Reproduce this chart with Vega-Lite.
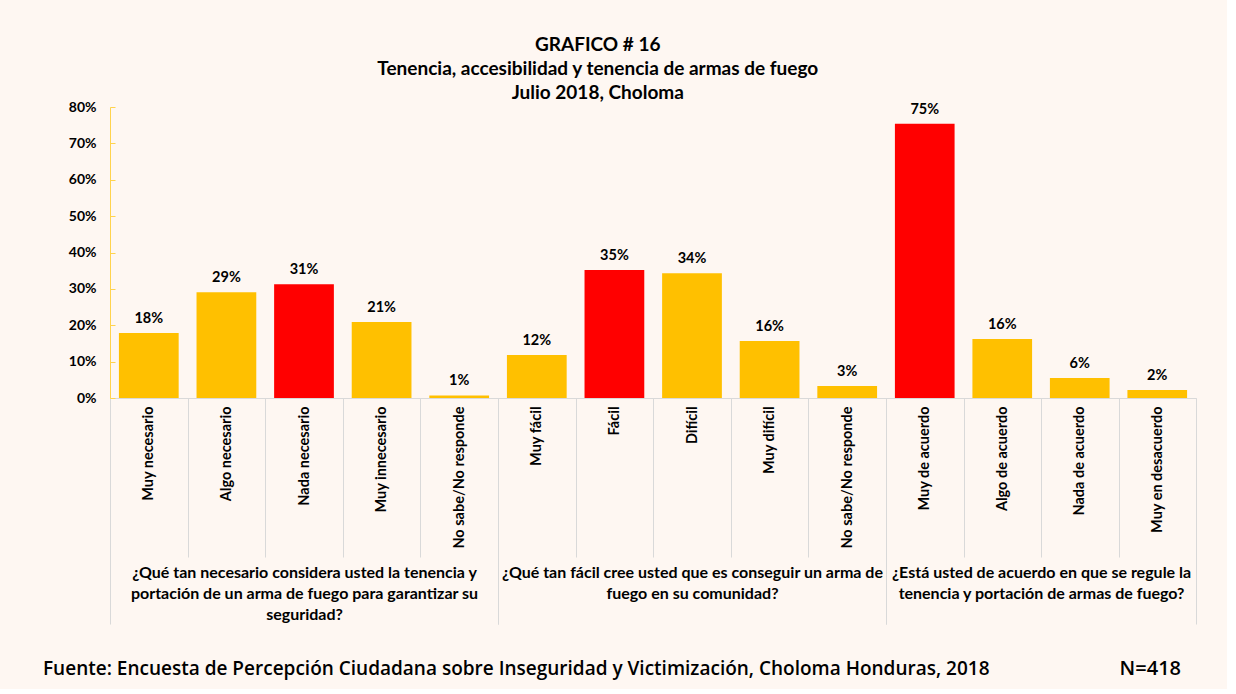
{
  "$schema": "https://vega.github.io/schema/vega-lite/v6.json",
  "background": "#FEF7F2",
  "padding": {"left": 43, "top": 36, "right": 30, "bottom": 10},
  "config": {
    "font": "Lato",
    "view": {"stroke": null},
    "axis": {"labelFont": "Lato", "titleFont": "Lato"}
  },
  "datasets": {
    "bars": [
      {"grp": "g1", "cat": "Muy necesario", "value": 0.179},
      {"grp": "g1", "cat": "Algo necesario", "value": 0.291},
      {"grp": "g1", "cat": "Nada necesario", "value": 0.313},
      {"grp": "g1", "cat": "Muy innecesario", "value": 0.209},
      {"grp": "g1", "cat": "No sabe/No responde", "value": 0.007},
      {"grp": "g2", "cat": "Muy fácil", "value": 0.118},
      {"grp": "g2", "cat": "Fácil", "value": 0.352},
      {"grp": "g2", "cat": "Difícil", "value": 0.343},
      {"grp": "g2", "cat": "Muy difícil", "value": 0.157},
      {"grp": "g2", "cat": "No sabe/No responde", "value": 0.033},
      {"grp": "g3", "cat": "Muy de acuerdo", "value": 0.754},
      {"grp": "g3", "cat": "Algo de acuerdo", "value": 0.162},
      {"grp": "g3", "cat": "Nada de acuerdo", "value": 0.055},
      {"grp": "g3", "cat": "Muy en desacuerdo", "value": 0.022}
    ]
  },
  "title": {
    "text": ["GRAFICO # 16", "Tenencia, accesibilidad y tenencia de armas de fuego", "Julio 2018, Choloma"],
    "fontSize": 19,
    "fontWeight": "bold",
    "font": "Lato",
    "lineHeight": 24,
    "color": "#000000",
    "anchor": "middle",
    "dx": -22,
    "offset": -3
  },
  "vconcat": [
    {
      "hconcat": [
        {
          "width": 388,
          "height": 291,
          "data": {"name": "bars"},
          "transform": [
            {"filter": "datum.grp === 'g1'"},
            {"joinaggregate": [{"op": "max", "field": "value", "as": "maxv"}]}
          ],
          "layer": [
            {
              "encoding": {
                "x": {
                  "field": "cat", "type": "nominal", "sort": null,
                  "scale": {"paddingInner": 0, "paddingOuter": 0},
                  "axis": {
                    "orient": "bottom",
                    "title": ["¿Qué tan necesario considera usted la tenencia y", "portación de un arma de fuego para garantizar su", "seguridad?"],
                    "titleFontSize": 16, "titleFontWeight": "bold", "titleColor": "#000000", "titleLineHeight": 21, "titlePadding": 7,
                    "labelAngle": -90, "labelAlign": "right", "labelBaseline": "middle", "labelFontSize": 14.5, "labelFontWeight": "bold", "labelColor": "#000000", "labelPadding": -151,
                    "tickBand": "extent", "tickSize": 159, "tickColor": "#D9D9D9", "domainColor": "#D9D9D9", "grid": false
                  }
                },
                "y": {
                  "field": "value", "type": "quantitative",
                  "scale": {"domain": [0, 0.8]},
                  "axis": {
                    "title": null, "format": ".0%", "values": [0, 0.1, 0.2, 0.3, 0.4, 0.5, 0.6, 0.7, 0.8],
                    "labelFontSize": 14, "labelFontWeight": "bold", "labelColor": "#000000", "labelPadding": 19,
                    "domainColor": "#FFD34D", "tickColor": "#FFD34D", "tickSize": -5, "grid": false
                  }
                }
              },
              "layer": [
                {
                  "mark": {"type": "bar", "width": {"band": 0.77}},
                  "encoding": {
                    "color": {"condition": {"test": "datum.value === datum.maxv", "value": "#FF0000"}, "value": "#FFC000"}
                  }
                },
                {
                  "mark": {"type": "text", "baseline": "bottom", "dy": -7, "fontSize": 14.5, "fontWeight": "bold", "color": "#000000"},
                  "encoding": {
                    "text": {"field": "value", "type": "quantitative", "format": ".0%"}
                  }
                }
              ]
            },
            {
              "mark": {"type": "rule", "opacity": 0},
              "encoding": {
                "x": {"datum": 0, "type": "quantitative", "scale": {"domain": [0, 1]},
                  "axis": {"orient": "bottom", "values": [0, 1], "tickSize": 226, "labels": false, "domain": false, "tickColor": "#D9D9D9", "title": null, "grid": false}}
              }
            }
          ],
          "resolve": {"scale": {"x": "independent"}, "axis": {"x": "independent"}}
        },
        {
          "width": 388,
          "height": 291,
          "data": {"name": "bars"},
          "transform": [
            {"filter": "datum.grp === 'g2'"},
            {"joinaggregate": [{"op": "max", "field": "value", "as": "maxv"}]}
          ],
          "layer": [
            {
              "encoding": {
                "x": {
                  "field": "cat", "type": "nominal", "sort": null,
                  "scale": {"paddingInner": 0, "paddingOuter": 0},
                  "axis": {
                    "orient": "bottom",
                    "title": ["¿Qué tan fácil cree usted que es conseguir un arma de", "fuego en su comunidad?"],
                    "titleFontSize": 16, "titleFontWeight": "bold", "titleColor": "#000000", "titleLineHeight": 21, "titlePadding": 7,
                    "labelAngle": -90, "labelAlign": "right", "labelBaseline": "middle", "labelFontSize": 14.5, "labelFontWeight": "bold", "labelColor": "#000000", "labelPadding": -151,
                    "tickBand": "extent", "tickSize": 159, "tickColor": "#D9D9D9", "domainColor": "#D9D9D9", "grid": false
                  }
                },
                "y": {
                  "field": "value", "type": "quantitative",
                  "scale": {"domain": [0, 0.8]},
                  "axis": null
                }
              },
              "layer": [
                {
                  "mark": {"type": "bar", "width": {"band": 0.77}},
                  "encoding": {
                    "color": {"condition": {"test": "datum.value === datum.maxv", "value": "#FF0000"}, "value": "#FFC000"}
                  }
                },
                {
                  "mark": {"type": "text", "baseline": "bottom", "dy": -7, "fontSize": 14.5, "fontWeight": "bold", "color": "#000000"},
                  "encoding": {
                    "text": {"field": "value", "type": "quantitative", "format": ".0%"}
                  }
                }
              ]
            },
            {
              "mark": {"type": "rule", "opacity": 0},
              "encoding": {
                "x": {"datum": 0, "type": "quantitative", "scale": {"domain": [0, 1]},
                  "axis": {"orient": "bottom", "values": [0, 1], "tickSize": 226, "labels": false, "domain": false, "tickColor": "#D9D9D9", "title": null, "grid": false}}
              }
            }
          ],
          "resolve": {"scale": {"x": "independent"}, "axis": {"x": "independent"}}
        },
        {
          "width": 310,
          "height": 291,
          "data": {"name": "bars"},
          "transform": [
            {"filter": "datum.grp === 'g3'"},
            {"joinaggregate": [{"op": "max", "field": "value", "as": "maxv"}]}
          ],
          "layer": [
            {
              "encoding": {
                "x": {
                  "field": "cat", "type": "nominal", "sort": null,
                  "scale": {"paddingInner": 0, "paddingOuter": 0},
                  "axis": {
                    "orient": "bottom",
                    "title": ["¿Está usted de acuerdo en que se regule la", "tenencia y portación de armas de fuego?"],
                    "titleFontSize": 16, "titleFontWeight": "bold", "titleColor": "#000000", "titleLineHeight": 21, "titlePadding": 7,
                    "labelAngle": -90, "labelAlign": "right", "labelBaseline": "middle", "labelFontSize": 14.5, "labelFontWeight": "bold", "labelColor": "#000000", "labelPadding": -151,
                    "tickBand": "extent", "tickSize": 159, "tickColor": "#D9D9D9", "domainColor": "#D9D9D9", "grid": false
                  }
                },
                "y": {
                  "field": "value", "type": "quantitative",
                  "scale": {"domain": [0, 0.8]},
                  "axis": null
                }
              },
              "layer": [
                {
                  "mark": {"type": "bar", "width": {"band": 0.77}},
                  "encoding": {
                    "color": {"condition": {"test": "datum.value === datum.maxv", "value": "#FF0000"}, "value": "#FFC000"}
                  }
                },
                {
                  "mark": {"type": "text", "baseline": "bottom", "dy": -7, "fontSize": 14.5, "fontWeight": "bold", "color": "#000000"},
                  "encoding": {
                    "text": {"field": "value", "type": "quantitative", "format": ".0%"}
                  }
                }
              ]
            },
            {
              "mark": {"type": "rule", "opacity": 0},
              "encoding": {
                "x": {"datum": 0, "type": "quantitative", "scale": {"domain": [0, 1]},
                  "axis": {"orient": "bottom", "values": [0, 1], "tickSize": 226, "labels": false, "domain": false, "tickColor": "#D9D9D9", "title": null, "grid": false}}
              }
            }
          ],
          "resolve": {"scale": {"x": "independent"}, "axis": {"x": "independent"}}
        }
      ],
      "spacing": 0,
      "bounds": "flush"
    },
    {
      "width": 1086,
      "height": 20,
      "layer": [
        {
          "data": {"values": [{"t": "Fuente: Encuesta de Percepción Ciudadana sobre Inseguridad y Victimización, Choloma Honduras, 2018"}]},
          "mark": {"type": "text", "align": "left", "baseline": "middle", "dx": -67, "font": "Open Sans", "fontSize": 19, "fontWeight": 600, "color": "#000000"},
          "encoding": {
            "text": {"field": "t"},
            "x": {"datum": 0, "type": "quantitative", "scale": {"domain": [0, 1]}, "axis": null}
          }
        },
        {
          "data": {"values": [{"t": "N=418"}]},
          "mark": {"type": "text", "align": "right", "baseline": "middle", "dx": -15, "font": "Open Sans", "fontSize": 20, "fontWeight": 600, "color": "#000000"},
          "encoding": {
            "text": {"field": "t"},
            "x": {"datum": 1, "type": "quantitative", "scale": {"domain": [0, 1]}, "axis": null}
          }
        }
      ]
    }
  ],
  "spacing": 34
}
